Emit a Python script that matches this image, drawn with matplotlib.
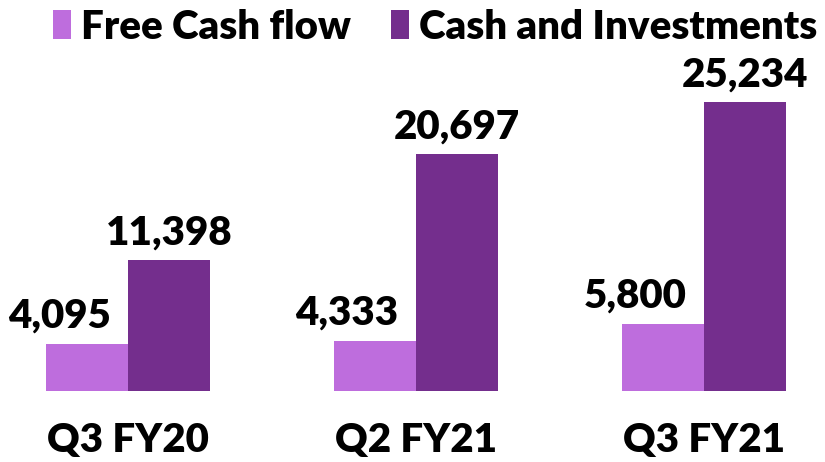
import matplotlib.pyplot as plt
import numpy as np

plt.rcParams['font.family'] = ['Lato', 'DejaVu Sans']

quarters = ["Q3 FY20", "Q2 FY21", "Q3 FY21"]
free_cash_flow = [4095, 4333, 5800]
cash_investments = [11398, 20697, 25234]
series_names = ["Free Cash flow", "Cash and Investments"]
colors = ["#BE6DDD", "#742E8D"]

fig = plt.figure(figsize=(8.25, 4.62), dpi=100)
ax = fig.add_axes([0, 0.1537, 1, 0.8463])

x = np.arange(len(quarters))
w = 0.285
b1 = ax.bar(x - w / 2, free_cash_flow, w, color=colors[0], label=series_names[0])
b2 = ax.bar(x + w / 2, cash_investments, w, color=colors[1], label=series_names[1])

# value labels, FCF ones pushed a bit to the left like the original
for rect, v in zip(b1, free_cash_flow):
    ax.annotate(f"{v:,}", (rect.get_x() + rect.get_width() / 2, v),
                xytext=(-20, 12), textcoords="offset points",
                ha="center", va="baseline", fontsize=29, fontweight="heavy")
for rect, v in zip(b2, cash_investments):
    ax.annotate(f"{v:,}", (rect.get_x() + rect.get_width() / 2, v),
                xytext=(0, 11), textcoords="offset points",
                ha="center", va="baseline", fontsize=29, fontweight="heavy")

ax.set_xlim(-0.444, 2.42)
ax.set_ylim(0, 34100)
ax.set_xticks(x)
ax.set_xticklabels(quarters, fontsize=29, fontweight="heavy")
ax.tick_params(axis="x", length=0, pad=22)
ax.set_yticks([])
for s in ax.spines.values():
    s.set_visible(False)

fig.legend(loc="upper left", bbox_to_anchor=(0.02, 1.06), ncol=2, frameon=False,
           prop={"size": 29, "weight": "heavy"}, handlelength=0.45, handleheight=0.75,
           handletextpad=0.25, columnspacing=1.0)

fig.savefig("out.png", dpi=100)
